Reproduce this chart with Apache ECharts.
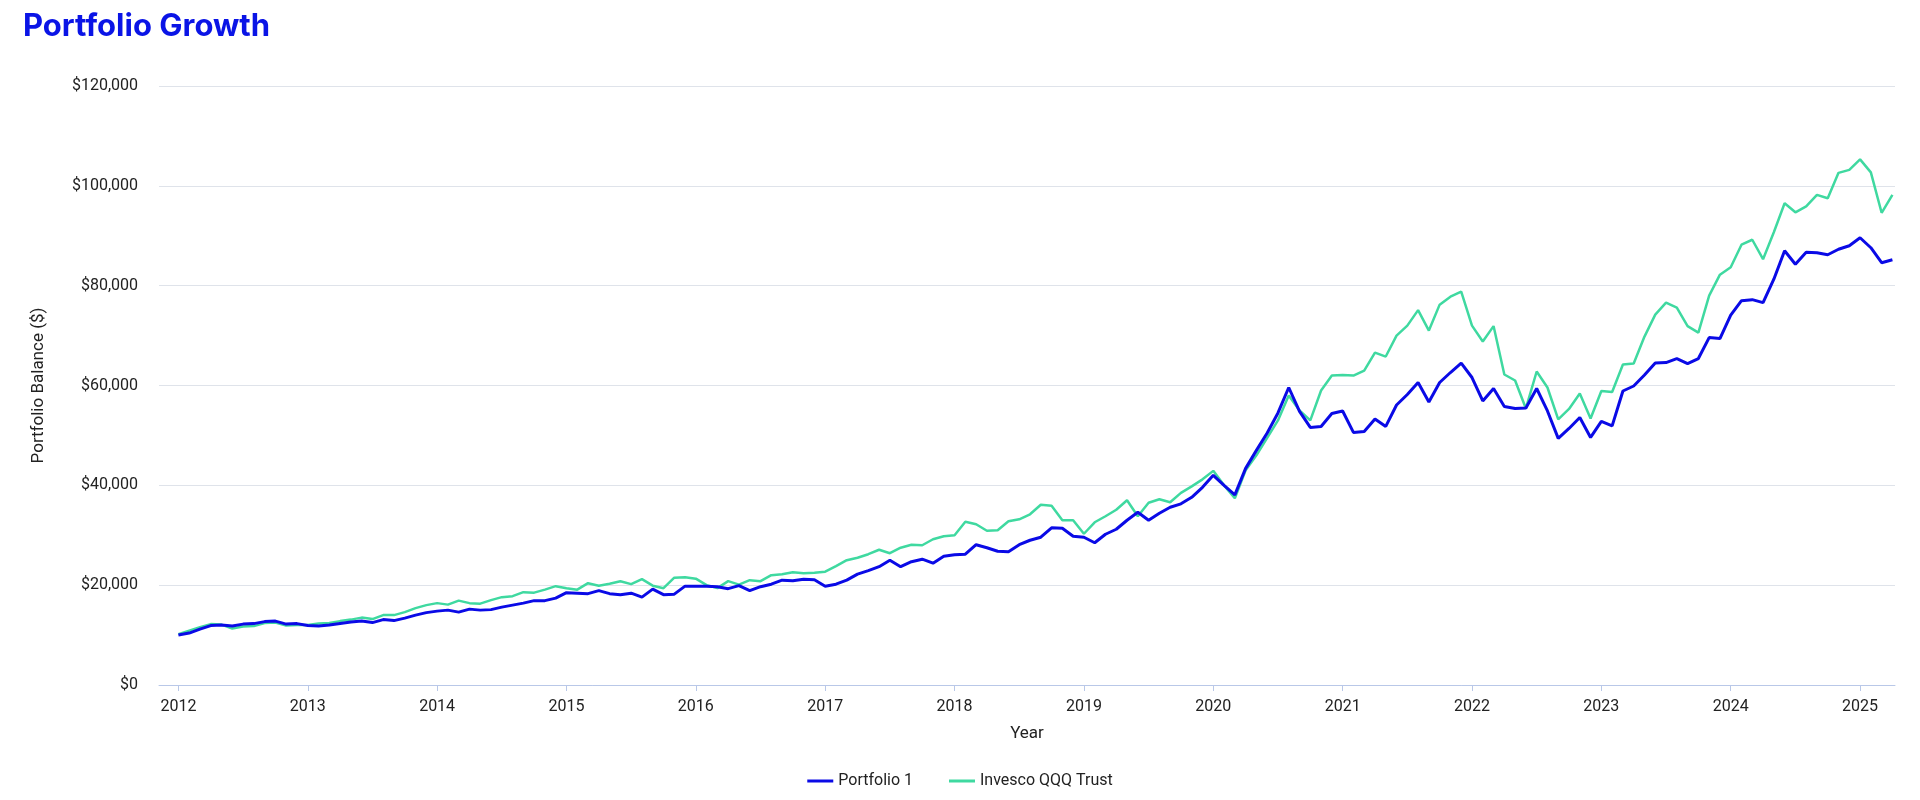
<!DOCTYPE html>
<html>
<head>
<meta charset="utf-8">
<script src="https://cdn.jsdelivr.net/npm/echarts@6/dist/echarts.min.js"></script>
<style>html,body{margin:0;padding:0;background:#fff}#chart{width:1920px;height:800px}</style>
</head>
<body>
<div id="chart"></div>
<script>
// monthly balances in $k, starting Jan 2012
var startYear = 2012;
var yearTicks = [2012, 2013, 2014, 2015, 2016, 2017, 2018, 2019, 2020, 2021, 2022, 2023, 2024, 2025];
var portfolio1 = [
  10.0,10.4,11.2,11.9,12.0,11.8,12.2,12.3,12.7,12.8,12.2,12.3,
  11.9,11.8,12.0,12.3,12.6,12.8,12.5,13.1,12.9,13.4,14.0,14.5,
  14.8,15.0,14.6,15.2,15.0,15.1,15.6,16.0,16.4,16.9,16.9,17.4,
  18.5,18.4,18.3,18.9,18.3,18.1,18.4,17.6,19.2,18.1,18.2,19.8,
  19.8,19.8,19.7,19.3,19.9,18.9,19.7,20.2,21.0,20.9,21.2,21.1,
  19.8,20.2,21.0,22.2,22.9,23.7,25.0,23.7,24.7,25.2,24.4,25.8,
  26.1,26.2,28.1,27.5,26.8,26.7,28.1,29.0,29.6,31.5,31.4,29.8,
  29.6,28.5,30.2,31.2,33.0,34.6,33.0,34.4,35.6,36.3,37.6,39.6,
  42.0,40.0,38.1,43.4,47.0,50.5,54.5,59.6,54.8,51.6,51.8,54.4,
  54.9,50.6,50.8,53.3,51.8,56.1,58.2,60.6,56.7,60.6,62.6,64.5,
  61.6,56.9,59.4,55.8,55.4,55.5,59.4,54.9,49.4,51.4,53.6,49.6,
  52.8,51.9,58.9,59.9,62.1,64.5,64.6,65.4,64.4,65.4,69.6,69.4,
  74.1,77.0,77.2,76.6,81.3,87.0,84.3,86.7,86.6,86.2,87.3,88.0,
  89.6,87.6,84.6,85.2
];
var qqq = [
  10.2,10.9,11.6,12.2,12.1,11.3,11.7,11.8,12.4,12.5,11.9,12.0,
  12.0,12.3,12.4,12.8,13.1,13.5,13.2,14.0,14.0,14.6,15.4,16.0,
  16.4,16.1,16.9,16.4,16.3,17.0,17.6,17.8,18.6,18.5,19.1,19.8,
  19.4,19.1,20.4,19.9,20.3,20.8,20.2,21.2,19.9,19.4,21.5,21.6,
  21.3,20.0,19.4,20.8,20.1,21.0,20.8,22.0,22.2,22.6,22.4,22.5,
  22.7,23.8,25.0,25.5,26.2,27.1,26.4,27.5,28.1,28.0,29.2,29.8,
  30.0,32.7,32.2,30.9,31.0,32.8,33.2,34.2,36.1,35.9,33.0,33.0,
  30.3,32.6,33.8,35.1,37.0,33.8,36.5,37.2,36.6,38.5,39.8,41.2,
  42.9,40.0,37.4,43.0,46.0,49.5,53.0,58.0,55.0,53.0,59.0,62.0,
  62.1,62.0,63.0,66.6,65.8,70.0,72.0,75.1,71.0,76.2,77.8,78.8,
  72.0,68.8,71.9,62.2,61.0,55.4,62.8,59.6,53.2,55.3,58.4,53.4,
  58.9,58.7,64.2,64.4,69.8,74.2,76.6,75.6,71.9,70.6,78.0,82.2,
  83.7,88.2,89.2,85.3,90.7,96.5,94.7,95.9,98.2,97.5,102.6,103.2,
  105.3,102.7,94.6,98.2
];

function toPoints(arr) {
  return arr.map(function (v, i) { return [startYear + i / 12, v * 1000]; });
}

var chart = echarts.init(document.getElementById('chart'));
var axisFont = { color: '#222', fontSize: 16, fontFamily: 'Roboto' };
chart.setOption({
  animation: false,
  title: {
    text: 'Portfolio Growth', left: 18, top: 6,
    textStyle: { color: '#0a14e6', fontSize: 31, fontWeight: 'bold', fontFamily: 'Inter' }
  },
  legend: {
    bottom: 6, left: 'center', itemWidth: 26, itemHeight: 3, itemGap: 36,
    icon: 'rect',
    textStyle: { color: '#222', fontSize: 16, fontFamily: 'Roboto' },
    data: ['Portfolio 1', 'Invesco QQQ Trust']
  },
  grid: { left: 159, right: 25, top: 86, bottom: 115 },
  xAxis: {
    type: 'value', min: 2011.85, max: 2025.27,
    name: 'Year', nameLocation: 'middle', nameGap: 40,
    nameTextStyle: { color: '#222', fontSize: 17, fontFamily: 'Roboto' },
    splitLine: { show: false },
    axisLine: { lineStyle: { color: '#b9c8e8' } },
    axisTick: { customValues: yearTicks, length: 6, lineStyle: { color: '#b9c8e8' } },
    axisLabel: Object.assign({ customValues: yearTicks, margin: 14, formatter: function (v) { return String(Math.round(v)); } }, axisFont)
  },
  yAxis: {
    type: 'value', min: 0, max: 120000, interval: 20000,
    name: 'Portfolio Balance ($)', nameLocation: 'middle', nameGap: 112,
    nameTextStyle: { color: '#222', fontSize: 17, fontFamily: 'Roboto' },
    axisLine: { show: false }, axisTick: { show: false },
    splitLine: { lineStyle: { color: '#dfe3ea' } },
    axisLabel: Object.assign({ margin: 21, formatter: function (v) { return '$' + v.toLocaleString('en-US'); } }, axisFont)
  },
  series: [
    { name: 'Invesco QQQ Trust', type: 'line', data: toPoints(qqq), showSymbol: false,
      lineStyle: { color: '#3fd9a0', width: 2.5 }, itemStyle: { color: '#3fd9a0' }, z: 2 },
    { name: 'Portfolio 1', type: 'line', data: toPoints(portfolio1), showSymbol: false,
      lineStyle: { color: '#0a0ae6', width: 3 }, itemStyle: { color: '#0a0ae6' }, z: 3 }
  ]
});
</script>
</body>
</html>
